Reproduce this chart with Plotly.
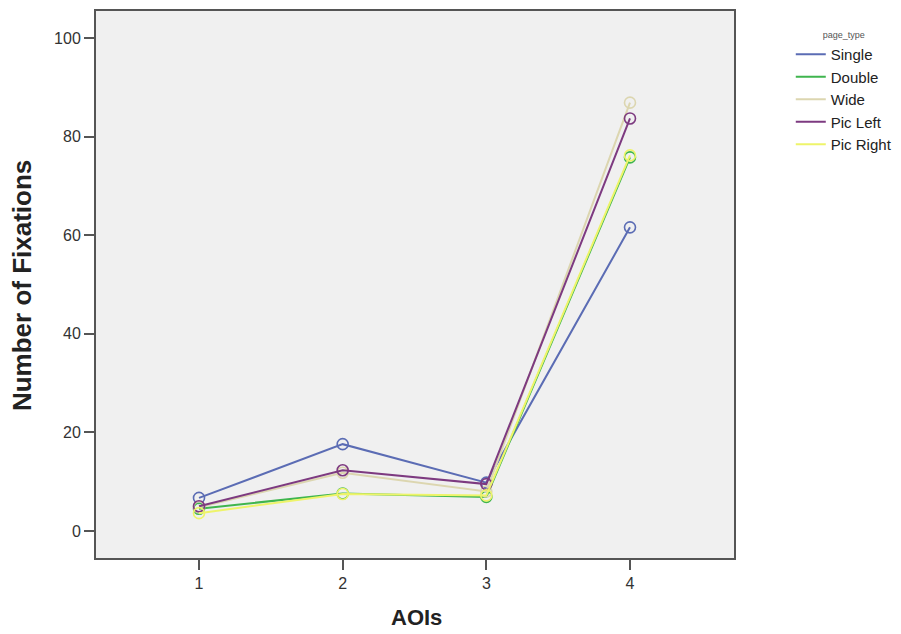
import plotly.graph_objects as go

aois = [1, 2, 3, 4]
series_names = ["Single", "Double", "Wide", "Pic Left", "Pic Right"]
single = [6.7, 17.6, 9.8, 61.6]
double = [4.5, 7.6, 6.9, 75.8]
wide = [4.8, 11.8, 8.0, 86.9]
pic_left = [5.0, 12.3, 9.5, 83.7]
pic_right = [3.6, 7.5, 7.2, 76.2]
y_ticks = [0, 20, 40, 60, 80, 100]
colors = ["#5b6cb4", "#3fb54e", "#dcd6b0", "#7d3a80", "#eef46a"]

data = [single, double, wide, pic_left, pic_right]

fig = go.Figure()
for name, vals, col in zip(series_names, data, colors):
    fig.add_trace(go.Scatter(
        x=aois, y=vals, name=name, mode="lines+markers", showlegend=False,
        line=dict(color=col, width=2),
        marker=dict(symbol="circle-open", size=11, color=col, line=dict(width=1.6)),
    ))
# legend entries (line only, as in the original)
for name, col in zip(series_names, colors):
    fig.add_trace(go.Scatter(
        x=[None], y=[None], name=name, mode="lines",
        line=dict(color=col, width=2), showlegend=True,
    ))

font = "Liberation Sans, Arial, sans-serif"
fig.update_layout(
    width=893, height=626,
    margin=dict(l=88, r=167, t=3, b=76, autoexpand=False),
    paper_bgcolor="white", plot_bgcolor="#f0f0f0",
    font=dict(family=font, size=16, color="#333333"),
    showlegend=True,
    legend=dict(
        x=1.089, y=0.972, xanchor="left", yanchor="top",
        title=dict(text="page_type", side="top center", font=dict(size=9, color="#555555")),
        font=dict(size=15, color="#222222"),
        tracegroupgap=0, itemwidth=30,
        bgcolor="rgba(0,0,0,0)",
    ),
    xaxis=dict(
        range=[0.283, 4.724], tickvals=aois, ticktext=[str(a) for a in aois],
        showgrid=False, zeroline=False, automargin=False,
        showline=True, linecolor="#555555", linewidth=2, mirror=True,
        ticks="outside", ticklen=10, tickwidth=2, tickcolor="#555555",
        tickfont=dict(size=16, color="#333333"),
    ),
    yaxis=dict(
        range=[-5.5, 105.5], tickvals=y_ticks,
        showgrid=False, zeroline=False, automargin=False,
        showline=True, linecolor="#555555", linewidth=2, mirror=True,
        ticks="outside", ticklen=10, tickwidth=2, tickcolor="#555555",
        tickfont=dict(size=16, color="#333333"),
    ),
    annotations=[
        dict(text="<b>AOIs</b>", xref="paper", yref="paper", x=0.5016, y=-0.109,
             xanchor="center", yanchor="middle", showarrow=False,
             font=dict(size=22, color="#222222")),
        dict(text="<b>Number of Fixations</b>", xref="paper", yref="paper", x=-0.116, y=0.499,
             xanchor="center", yanchor="middle", textangle=-90, showarrow=False,
             font=dict(size=26, color="#222222")),
    ],
)

fig.write_html("out.html")
